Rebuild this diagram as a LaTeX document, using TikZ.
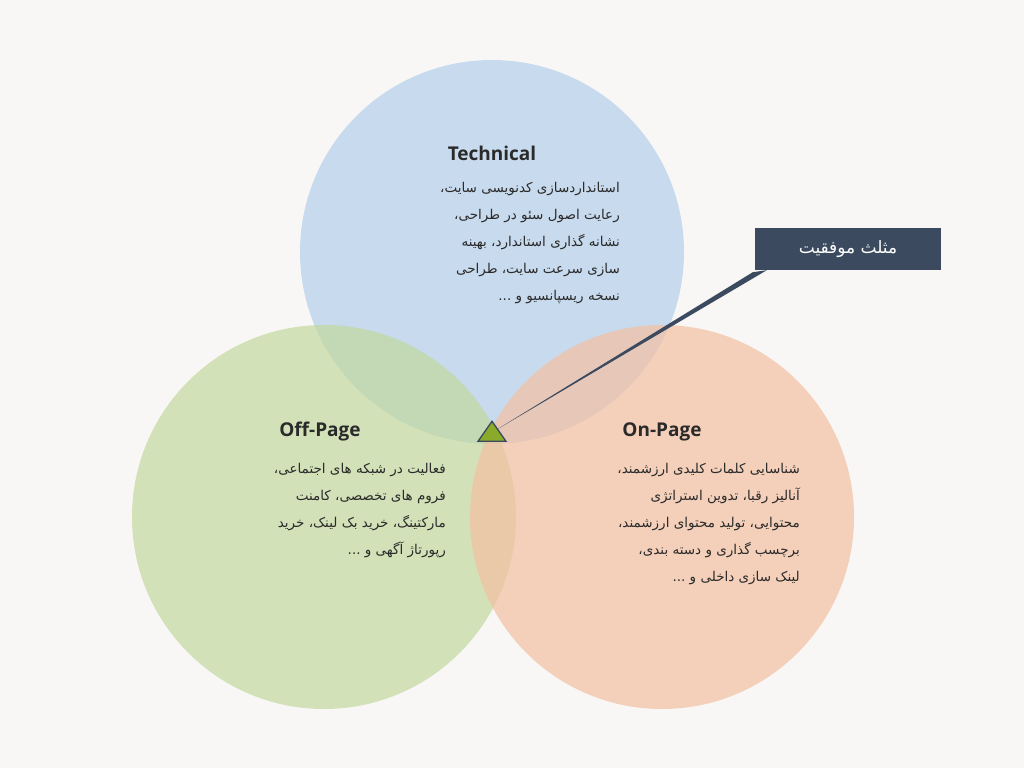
\documentclass[tikz,border=0pt]{standalone}
\usepackage{fontspec}
\usetikzlibrary{shapes.geometric}
\setmainfont{Open Sans}
\newfontfamily\fa[Script=Arabic]{DejaVu Sans}
\TeXXeTstate=1
\definecolor{bg}{HTML}{F8F7F5}
\definecolor{cb}{HTML}{B4CFEA}
\definecolor{cg}{HTML}{C2D99E}
\definecolor{co}{HTML}{F3C0A2}
\definecolor{lab}{HTML}{3B4A5E}
\definecolor{tri}{HTML}{8AAA2A}
\definecolor{txt}{HTML}{2A2A2A}
\tikzset{
 circ/.style={circle,minimum size=384pt,inner sep=0pt,fill opacity=0.7},
 ttl/.style={font=\fontsize{19}{22}\selectfont\bfseries,text=txt},
 body/.style={font=\fa\fontsize{13.5}{27}\selectfont,text=txt,align=right,anchor=north east,inner sep=0pt}
}
\begin{document}
\begin{tikzpicture}[x=1pt,y=-1pt]
\useasboundingbox[fill=bg] (0,0) rectangle (1024,768);
\node[circ,fill=cb] (tc) at (492,252) {};
\node[circ,fill=cg] (oc) at (324,517) {};
\node[circ,fill=co] (nc) at (662,517) {};
\node[ttl] (tt) at (492,153) {Technical};
\node[ttl] (ot) at (320,432) {Off-Page};
\node[ttl] (nt) at (662,432) {On-Page};
\node[body] (tb) at (620,182) {\beginR استانداردسازی کدنویسی سایت،\endR\\\beginR رعایت اصول سئو در طراحی،\endR\\\beginR نشانه گذاری استاندارد، بهینه\endR\\\beginR سازی سرعت سایت، طراحی\endR\\\beginR نسخه ریسپانسیو و ...\endR};
\node[body] (ob) at (446,463) {\beginR فعالیت در شبکه های اجتماعی،\endR\\\beginR فروم های تخصصی، کامنت\endR\\\beginR مارکتینگ، خرید بک لینک، خرید\endR\\\beginR رپورتاژ آگهی و ...\endR};
\node[body] (nb) at (800,463) {\beginR شناسایی کلمات کلیدی ارزشمند،\endR\\\beginR آنالیز رقبا، تدوین استراتژی\endR\\\beginR محتوایی، تولید محتوای ارزشمند،\endR\\\beginR برچسب گذاری و دسته بندی،\endR\\\beginR لینک سازی داخلی و ...\endR};
\node[fill=lab,text=white,minimum width=186pt,minimum height=42pt,font=\fa\fontsize{17}{20}\selectfont] (lb) at (848,249) {\beginR مثلث موفقیت\endR};
\coordinate (tp) at (496,430);
\fill[lab] (tp) -- ([xshift=-2pt,yshift=-2pt]lb.south west) -- ([xshift=12pt]lb.south west) -- cycle;
\node[draw=lab,line width=1.3pt,fill=tri,isosceles triangle,shape border rotate=90,isosceles triangle apex angle=70,minimum width=26pt,minimum height=20pt,inner sep=0pt] (tr) at (492,434) {};
\end{tikzpicture}
\end{document}
